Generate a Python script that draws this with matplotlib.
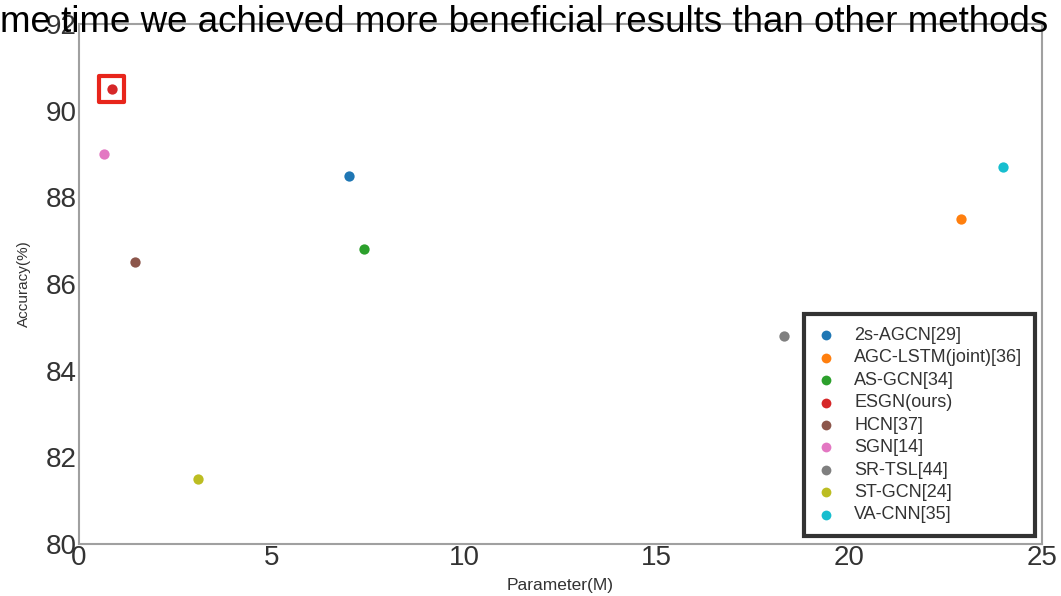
import matplotlib
matplotlib.use("Agg")
import matplotlib.pyplot as plt

plt.rcParams['font.family'] = ['Liberation Sans', 'DejaVu Sans']

methods = ["2s-AGCN[29]", "AGC-LSTM(joint)[36]", "AS-GCN[34]", "ESGN(ours)", "HCN[37]",
           "SGN[14]", "SR-TSL[44]", "ST-GCN[24]", "VA-CNN[35]"]
params = [7.0, 22.9, 7.4, 0.85, 1.45, 0.65, 18.3, 3.1, 24.0]
accuracy = [88.5, 87.5, 86.8, 90.5, 86.5, 89.0, 84.8, 81.5, 88.7]
colors = ["#1f77b4", "#ff7f0e", "#2ca02c", "#d62728", "#8c564b",
          "#e377c2", "#7f7f7f", "#bcbd22", "#17becf"]
highlight = "ESGN(ours)"
title = "me time we achieved more beneficial results than other methods"

fig = plt.figure(figsize=(10.61, 5.96), dpi=100)
ax = fig.add_axes([0.0745, 0.0872, 0.9075, 0.8725])

for m, x, y, c in zip(methods, params, accuracy, colors):
    ax.scatter([x], [y], s=55, color=c, label=m, zorder=3, linewidths=0)
    if m == highlight:
        ax.scatter([x], [y], s=330, marker='s', facecolors='none',
                   edgecolors='#e8251b', linewidths=3, zorder=4)

ax.set_xlim(0, 25)
ax.set_ylim(80, 92)
ax.set_xticks([0, 5, 10, 15, 20, 25])
ax.set_yticks([80, 82, 84, 86, 88, 90, 92])
ax.tick_params(axis='both', length=0, labelsize=20, colors='#333333', pad=2)
ax.tick_params(axis='x', pad=1)
for s in ax.spines.values():
    s.set_color('#a0a0a0')
    s.set_linewidth(1.5)
ax.set_xlabel("Parameter(M)", fontsize=12.5, color='#333333', labelpad=5)
ax.set_ylabel("Accuracy(%)", fontsize=11, color='#333333', labelpad=10)

leg = ax.legend(loc='lower right', bbox_to_anchor=(0.9985, 0.005), fontsize=13,
                frameon=True, fancybox=False, handlelength=1.04, handletextpad=1.03,
                labelspacing=0.30, borderpad=0.7, borderaxespad=0.3,
                scatterpoints=1, markerscale=0.95)
fr = leg.get_frame()
fr.set_edgecolor('black')
fr.set_linewidth(3)
for t in leg.get_texts():
    t.set_color('#333333')

fig.text(0.0, 0.962, title, fontsize=26.5, color='black', va='center', ha='left')

fig.savefig("out.png", dpi=100)
